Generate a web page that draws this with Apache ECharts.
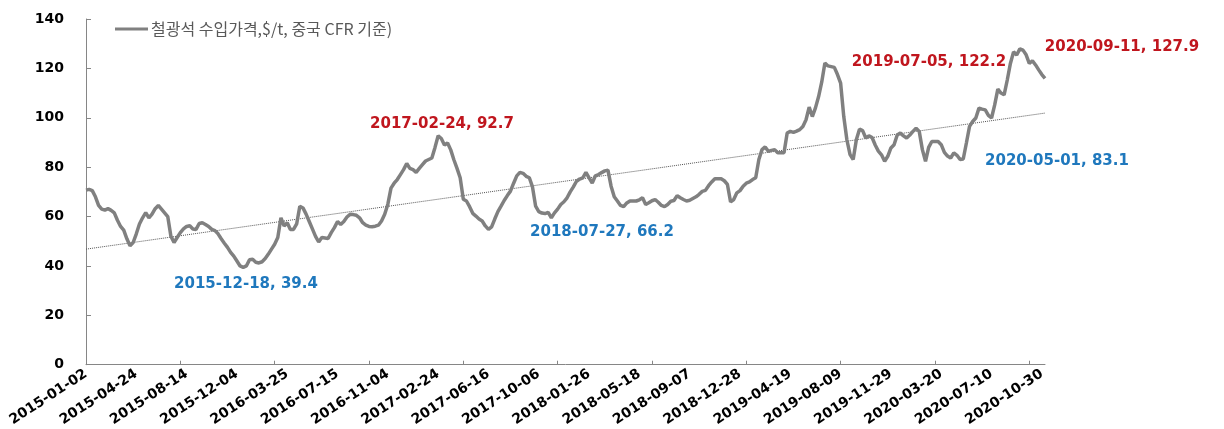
<!DOCTYPE html>
<html>
<head>
<meta charset="utf-8">
<script src="https://cdn.jsdelivr.net/npm/echarts@6/dist/echarts.min.js"></script>
<style>
  html, body { margin: 0; padding: 0; background: #fff; }
  #chart { width: 1224px; height: 429px; }
</style>
</head>
<body>
<div id="chart"></div>
<script>
// 주간 데이터 (2015-01-02 부터 매주)
var startDate = '2015-01-02';
var seriesName = '철광석 수입가격,$/t, 중국 CFR 기준)';
var prices = [
  70.7, 71, 70.5, 68, 64.5, 63, 62.6, 63.2, 62.5, 61.5,
  58.5, 56, 54.5, 51, 48.2, 49.5, 53, 57, 59.5, 61.6,
  59.5, 61, 63.2, 64.5, 63, 61.5, 60, 52, 49.5, 51.5,
  53.5, 55, 56, 56.3, 55, 54.8, 57.2, 57.5, 56.8, 56,
  54.8, 54.3, 53, 51, 49.2, 47.5, 45.5, 44, 42, 40,
  39.4, 40, 42.5, 42.7, 41.5, 41.2, 41.7, 43, 44.8, 46.8,
  48.8, 51.5, 59.5, 56.2, 57.5, 54.8, 54.8, 57, 64.2, 63.5,
  61, 58, 55, 52, 49.7, 51.5, 51.3, 51.1, 53.5, 55.5,
  58, 56.8, 58, 59.8, 60.9, 60.8, 60.5, 59.5, 57.5, 56.5,
  56, 55.9, 56.1, 56.5, 58.2, 60.9, 65, 71.5, 73.5, 75,
  77, 79, 81.5, 79.5, 79, 77.9, 79.5, 81, 82.5, 83.1,
  83.7, 88, 92.7, 91.6, 89, 89.8, 87, 83, 79.5, 75.7,
  67, 66.3, 64, 61.3, 60.2, 59, 58.2, 56.2, 54.8, 55.8,
  59, 62, 64.2, 66.5, 68.5, 70.3, 73.5, 76.5, 77.9, 77.5,
  76.3, 75.7, 72, 64.2, 62, 61.4, 61.2, 61.7, 59.5, 61.5,
  63, 64.9, 66, 67.6, 70, 72, 74.3, 75.2, 75.7, 77.9,
  75.7, 73.6, 76.5, 77, 77.8, 78.5, 78.8, 72.3, 68, 66.3,
  64.5, 64, 65.5, 66.3, 66.3, 66.3, 66.8, 67.6, 64.9, 65.6,
  66.4, 66.9, 65.8, 64.5, 64, 64.9, 66.2, 66.5, 68.5, 67.6,
  66.9, 66.3, 66.6, 67.3, 68, 69, 70.2, 70.6, 72.5, 74,
  75.3, 75.3, 75.3, 74.5, 73, 65.9, 66.9, 69.6, 70.5, 72.3,
  73.5, 74, 75, 75.7, 83.1, 87.1, 88.2, 86.4, 86.8, 87.1,
  85.8, 85.8, 85.8, 93.8, 94.5, 94.1, 94.6, 95.2, 96.5, 99.2,
  104.3, 100.5, 104, 108.6, 114.5, 122.2, 121, 120.7, 120.4, 117.5,
  114, 100.5, 91, 85.1, 83.1, 91.1, 95.4, 94.8, 91.8, 92.7,
  92, 89, 86.5, 85, 82.4, 84.4, 87.8, 89.1, 93, 93.8,
  92.7, 91.8, 93, 94.5, 95.8, 94.5, 87.1, 82.4, 88, 90.4,
  90.4, 90.4, 89.1, 86, 84.5, 83.7, 85.8, 84.8, 83.1, 83.3,
  89.8, 96.5, 98.5, 99.9, 103.9, 103.5, 103.2, 101, 99.9, 105.2,
  111.6, 110, 109.3, 115.3, 122, 126.7, 125.4, 127.9, 127.4, 125.5,
  122, 123.1, 121.4, 119.4, 117.5, 116
];
// 추세선 양 끝 값
var trendStart = 46.8;
var trendEnd = 101.9;
// 주석
var notes = [
  { text: '2015-12-18, 39.4', color: '#1f78bd', x: 246, y: 284 },
  { text: '2017-02-24, 92.7', color: '#c0161e', x: 442, y: 124 },
  { text: '2018-07-27, 66.2', color: '#1f78bd', x: 602, y: 232 },
  { text: '2019-07-05, 122.2', color: '#c0161e', x: 929, y: 62 },
  { text: '2020-09-11, 127.9', color: '#c0161e', x: 1122, y: 47 },
  { text: '2020-05-01, 83.1', color: '#1f78bd', x: 1057, y: 161 }
];

// 날짜 카테고리 생성
var dates = [];
var d0 = new Date(startDate + 'T00:00:00Z');
for (var i = 0; i < prices.length; i++) {
  var d = new Date(d0.getTime() + i * 7 * 86400000);
  dates.push(d.toISOString().slice(0, 10));
}
var trend = prices.map(function (v, i) {
  if (i === 0) return trendStart;
  if (i === prices.length - 1) return trendEnd;
  return null;
});

var chart = echarts.init(document.getElementById('chart'));
var option = {
  animation: false,
  backgroundColor: '#fff',
  grid: { left: 86, right: 179, top: 19, bottom: 63 },
  legend: {
    left: 110,
    top: 16,
    data: [{ name: seriesName, icon: 'rect' }],
    itemWidth: 33,
    itemHeight: 3,
    itemGap: 4,
    itemStyle: { color: '#808080' },
    textStyle: {
      color: '#595959',
      fontSize: 16,
      fontFamily: 'Noto Sans CJK KR',
      padding: [0, 0, 0, -2]
    }
  },
  xAxis: {
    type: 'category',
    data: dates,
    boundaryGap: false,
    axisLine: { lineStyle: { color: '#868686', width: 1 } },
    axisTick: { inside: true, length: 4, interval: 29, lineStyle: { color: '#868686' } },
    axisLabel: {
      interval: 15,
      rotate: 33,
      margin: 8,
      color: '#000',
      fontSize: 14,
      fontWeight: 'bold',
      fontFamily: 'DejaVu Sans'
    },
    splitLine: { show: false }
  },
  yAxis: {
    type: 'value',
    min: 0,
    max: 140,
    interval: 20,
    axisLine: { show: true, lineStyle: { color: '#868686', width: 1 } },
    axisTick: { show: true, inside: true, length: 5, lineStyle: { color: '#868686' } },
    axisLabel: {
      margin: 22,
      color: '#000',
      fontSize: 14,
      fontWeight: 'bold',
      fontFamily: 'DejaVu Sans'
    },
    splitLine: { show: false }
  },
  series: [
    {
      name: seriesName,
      type: 'line',
      data: prices,
      symbol: 'none',
      smooth: false,
      color: '#808080',
      lineStyle: { color: '#808080', width: 3.5 },
      z: 3
    },
    {
      name: 'trend',
      type: 'line',
      data: trend,
      connectNulls: true,
      symbol: 'none',
      lineStyle: { color: '#555', width: 1, type: 'dotted' },
      z: 2
    }
  ],
  graphic: notes.map(function (n) {
    return {
      type: 'text',
      x: n.x,
      y: n.y,
      style: {
        text: n.text,
        fill: n.color,
        font: 'bold 15px "DejaVu Sans"',
        textAlign: 'center',
        textVerticalAlign: 'middle'
      },
      z: 10
    };
  })
};
chart.setOption(option);
</script>
</body>
</html>
